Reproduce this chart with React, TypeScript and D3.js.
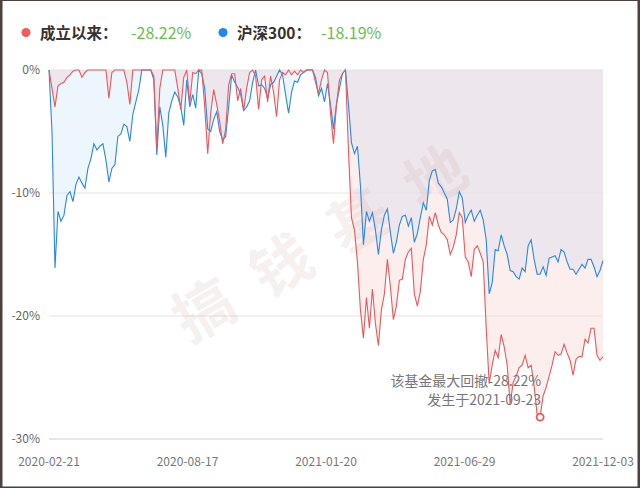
import React from 'react';
import * as d3 from 'd3';

const tickLabels = ['2020-02-21', '2020-08-17', '2021-01-20', '2021-06-29', '2021-12-03'];
const yTicks = [0, -10, -20, -30];
const legendNames = ['成立以来：', '沪深300：'];
const legendValues = ['-28.22%', '-18.19%'];
const maxDDDate = '2021-09-23';

// drawdown (%) of the fund since inception
const fundDD = [
  0, -1.5, -3.0, -1.3, -1.1, -1.0, -0.6, -0.4, -0.1, 0,
  0, -0.6, -0.2, 0, 0, 0, 0, 0, 0, 0,
  -2.3, -0.2, 0, 0, 0, 0, -1.0, -2.8, 0, 0,
  0, 0, 0, 0, 0, -0.5, -6.4, -1.5, 0, 0,
  0, 0, 0, -1.5, -3.2, -0.6, 0, -2.7, -0.2, -0.3,
  0, 0, -3.0, -6.8, -3.5, -1.6, -2.8, -4.2, -6.0, -4.8,
  -1.2, -0.3, -0.3, -2.5, -1.5, -3.3, -1.5, -0.2, 0, -0.5,
  -3.2, -0.8, -0.5, -2.6, -0.5, -1.8, -3.8, -0.8, -0.2, -0.4,
  0, -0.4, -0.1, -0.4, 0, -0.2, 0, 0, 0, -1.0,
  -1.9, -0.8, 0, -0.2, -3.5, -6.0, -2.8, -0.8, -0.3, 0,
  -6.5, -12.0, -13.0, -15.6, -19.5, -21.8, -18.5, -21.0, -17.8, -20.6,
  -22.4, -19.5, -18.2, -15.4, -17.6, -20.3, -19.2, -17.1, -17.0, -15.4,
  -14.8, -14.5, -18.2, -19.2, -18.0, -15.4, -14.2, -11.9, -12.6, -11.6,
  -12.6, -13.2, -13.4, -13.8, -15.0, -14.4, -13.4, -11.6, -12.0, -15.2,
  -15.6, -16.8, -14.6, -14.3, -14.9, -15.6, -21.0, -25.5, -24.0, -22.8,
  -23.4, -21.5, -22.5, -24.0, -27.2, -25.4, -24.9, -24.2, -24.0, -23.2,
  -24.2, -24.0, -25.7, -28.0, -28.22, -26.5, -25.8, -24.9, -24.0, -22.9,
  -23.2, -23.1, -22.3, -23.0, -23.6, -24.8, -23.5, -23.3, -23.3, -21.9,
  -22.2, -21.0, -21.0, -23.2, -23.6, -23.3,
];

// drawdown (%) of CSI 300 over the same period
const hs300DD = [
  0, -5.0, -16.1, -11.5, -12.3, -11.8, -10.2, -9.9, -10.7, -9.3,
  -8.7, -9.2, -9.6, -8.0, -7.2, -6.0, -6.5, -6.2, -6.0, -7.3,
  -9.1, -8.0, -7.7, -5.4, -5.2, -4.4, -4.6, -5.8, -3.6, -2.6,
  -1.6, 0, 0, 0, 0, -0.8, -6.9, -3.0, -4.5, -7.1,
  -3.5, -2.5, -1.8, -2.2, -3.0, -4.5, -0.8, -3.0, -2.0, -3.1,
  0, -0.3, -1.5, -4.8, -5.0, -4.0, -3.4, -5.0, -5.7, -5.4,
  -3.0, -0.4, -1.0, -1.4, -2.0, -3.3, -3.0, -2.5, -1.0, 0,
  -1.3, -1.2, -1.5, -2.3, -1.2, -1.0, -0.5, 0, -0.4, -2.0,
  -3.5, -1.8, -0.9, -1.0, -0.4, -0.2, 0, 0, 0, -0.6,
  -2.1, -1.5, -2.6, -1.1, -2.8, -4.8, -2.8, -1.5, -0.3, 0,
  -2.8, -5.9, -6.8, -6.2, -9.4, -14.2, -11.5, -12.3, -11.6, -13.0,
  -15.0, -13.0, -11.8, -11.3, -13.2, -14.9, -14.0, -12.6, -11.9, -11.8,
  -12.7, -12.0, -14.0, -13.3, -12.0, -10.8, -11.4, -9.0, -8.2, -8.1,
  -9.2, -9.5, -10.0, -10.5, -12.4, -12.2, -11.3, -9.9, -10.4, -12.4,
  -11.8, -11.4, -12.3, -11.8, -11.4, -12.2, -13.8, -18.19, -17.3, -14.6,
  -14.7, -13.4, -14.3, -15.0, -16.3, -16.4, -16.8, -17.0, -16.1, -16.4,
  -14.3, -13.8, -15.4, -16.6, -16.6, -16.0, -16.7, -15.3, -15.2, -15.1,
  -15.6, -14.6, -14.8, -15.6, -16.2, -16.2, -16.6, -16.2, -15.8, -16.1,
  -15.4, -15.4, -16.0, -16.8, -16.3, -15.5,
];

const FONT = "'Noto Sans CJK SC', 'Noto Sans', sans-serif";
const RED = '#e9585c';
const BLUE = '#2b87e3';

export default function App() {
  const W = 640, H = 488;
  const N = fundDD.length;
  const x = d3.scaleLinear().domain([0, N - 1]).range([49, 603]);
  const y = d3.scaleLinear().domain([-30, 0]).range([439, 70]);
  const area = d3.area<number>().x((_, i) => x(i)).y0(y(0)).y1((d) => y(d));
  const line = d3.line<number>().x((_, i) => x(i)).y((d) => y(d));
  const minIdx = d3.minIndex(fundDD);
  const mx = x(minIdx), my = y(fundDD[minIdx]);
  const tickPos = tickLabels.map((_, k) => (k * (N - 1)) / (tickLabels.length - 1));

  return (
    <svg width={W} height={H} style={{ position: 'absolute', left: 0, top: 0, fontFamily: FONT }}>
      <rect x={0} y={0} width={W} height={H} fill="#ffffff" />

      {/* legend */}
      <circle cx={26} cy={32.5} r={4.5} fill="#f05b5e" />
      <text x={40} y={38.5} fontSize={15.5} fontWeight={700} fill="#3a302c">{legendNames[0]}</text>
      <text x={131} y={38.5} fontSize={16} fill="#6bbd4e">{legendValues[0]}</text>
      <circle cx={223} cy={32.5} r={4.5} fill="#1f87e6" />
      <text x={237} y={38.5} fontSize={15.5} fontWeight={700} fill="#3a302c">{legendNames[1]}</text>
      <text x={321} y={38.5} fontSize={16} fill="#6bbd4e">{legendValues[1]}</text>

      {/* areas */}
      <path d={area(hs300DD) || ''} fill={BLUE} fillOpacity={0.08} />
      <path d={area(fundDD) || ''} fill={RED} fillOpacity={0.1} />

      {/* grid + y axis */}
      {yTicks.map((t) => (
        <g key={t}>
          <line x1={49} x2={603} y1={y(t)} y2={y(t)} stroke={t === -30 ? '#cfcfcf' : '#e3e3e3'} strokeWidth={1} />
          <text x={40} y={y(t)} dy="0.35em" textAnchor="end" fontSize={12} fill="#666">{`${t}%`}</text>
        </g>
      ))}

      {/* x axis labels */}
      {tickLabels.map((lab, k) => (
        <text key={lab} x={x(tickPos[k])} y={466} textAnchor="middle" fontSize={12} fill="#777">{lab}</text>
      ))}

      {/* watermark */}
      <text
        transform="translate(330,232) rotate(-30)"
        textAnchor="middle"
        dominantBaseline="central"
        fontSize={60}
        fontWeight={700}
        letterSpacing={29}
        fill="#c8a09a"
        fillOpacity={0.16}
      >搞钱基地</text>

      {/* lines */}
      <path d={line(hs300DD) || ''} fill="none" stroke={BLUE} strokeWidth={1.1} />
      <path d={line(fundDD) || ''} fill="none" stroke={RED} strokeWidth={1.1} />

      {/* max drawdown marker */}
      <circle cx={mx} cy={my} r={3.5} fill="#fff" stroke={RED} strokeWidth={1.8} />
      <text x={mx + 1} y={386} textAnchor="end" fontSize={14} fill="#777">{`该基金最大回撤${fundDD[minIdx]}%`}</text>
      <text x={mx + 1} y={405} textAnchor="end" fontSize={14} fill="#777">{`发生于${maxDDDate}`}</text>

      {/* frame */}
      <rect x={0} y={0} width={W} height={1} fill="#4b423d" />
      <rect x={0} y={0} width={2.5} height={H} fill="#4b423d" />
      <rect x={W - 2.5} y={0} width={2.5} height={H} fill="#4b423d" />
      <rect x={0} y={H - 1.5} width={W} height={1.5} fill="#4b423d" />
    </svg>
  );
}
